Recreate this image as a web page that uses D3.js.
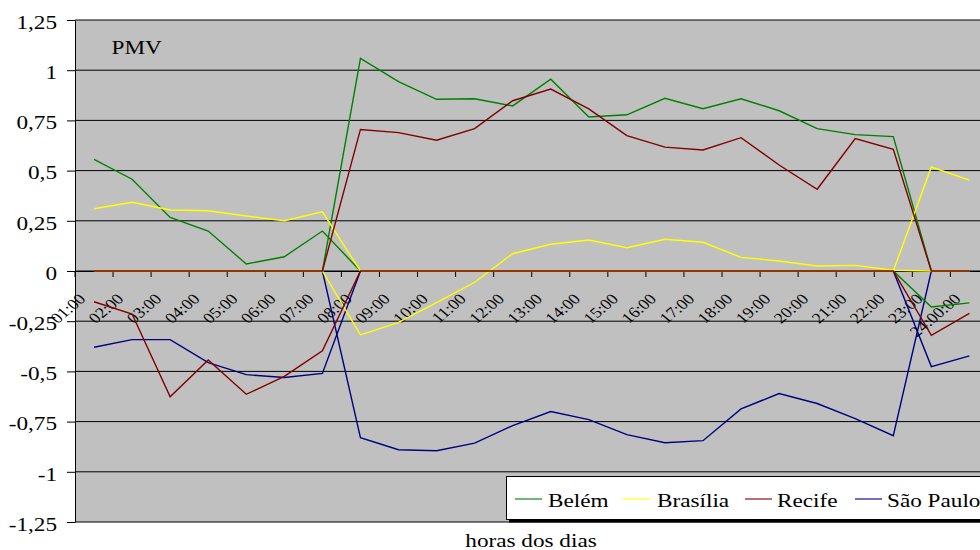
<!DOCTYPE html>
<html>
<head>
<meta charset="utf-8">
<script src="https://cdn.jsdelivr.net/npm/d3@7"></script>
<style>
  html, body { margin: 0; padding: 0; background: #ffffff; }
  svg { display: block; font-family: "Liberation Serif", "Times New Roman", serif; }
</style>
</head>
<body>
<svg id="chart" width="980" height="550"></svg>
<script>
// Hours of the day (categories) and their axis labels
const hours = ["01:00","02:00","03:00","04:00","05:00","06:00","07:00","08:00",
               "09:00","10:00","11:00","12:00","13:00","14:00","15:00","16:00",
               "17:00","18:00","19:00","20:00","21:00","22:00","23:00","24:00"];
const hourLabels = ["01:00","02:00","03:00","04:00","05:00","06:00","07:00","08:00",
                    "09:00","10:00","11:00","12:00","13:00","14:00","15:00","16:00",
                    "17:00","18:00","19:00","20:00","21:00","22:00","23:00","24:00:00"];

// Value axis ticks and their labels (decimal comma)
const yTicks = [1.25, 1, 0.75, 0.5, 0.25, 0, -0.25, -0.5, -0.75, -1, -1.25];
const yTickLabels = ["1,25","1","0,75","0,5","0,25","0","-0,25","-0,5","-0,75","-1","-1,25"];

// PMV per city, split into night (01–07h, 23–24h) and day (08–22h) series
const belemNight    = [0.556, 0.457, 0.267, 0.199, 0.035, 0.071, 0.199, 0, 0, 0, 0, 0, 0, 0, 0, 0, 0, 0, 0, 0, 0, 0, -0.179, -0.159];
const belemDay      = [0, 0, 0, 0, 0, 0, 0, 1.059, 0.943, 0.855, 0.858, 0.822, 0.955, 0.767, 0.778, 0.86, 0.808, 0.858, 0.798, 0.709, 0.679, 0.669, 0, 0];
const brasiliaNight = [0.31, 0.342, 0.304, 0.3, 0.274, 0.25, 0.295, 0, 0, 0, 0, 0, 0, 0, 0, 0, 0, 0, 0, 0, 0, 0, 0.518, 0.453];
const brasiliaDay   = [0, 0, 0, 0, 0, 0, 0, -0.318, -0.256, -0.158, -0.056, 0.086, 0.133, 0.154, 0.116, 0.158, 0.143, 0.068, 0.05, 0.025, 0.028, 0.004, 0, 0];
const recifeNight   = [-0.153, -0.214, -0.626, -0.443, -0.614, -0.525, -0.397, 0, 0, 0, 0, 0, 0, 0, 0, 0, 0, 0, 0, 0, 0, 0, -0.32, -0.211];
const recifeDay     = [0, 0, 0, 0, 0, 0, 0, 0.705, 0.689, 0.651, 0.709, 0.848, 0.906, 0.807, 0.674, 0.617, 0.603, 0.664, 0.528, 0.407, 0.659, 0.606, 0, 0];
const spNight       = [-0.38, -0.342, -0.342, -0.456, -0.516, -0.53, -0.51, 0, 0, 0, 0, 0, 0, 0, 0, 0, 0, 0, 0, 0, 0, 0, -0.476, -0.423];
const spDay         = [0, 0, 0, 0, 0, 0, 0, -0.83, -0.89, -0.895, -0.857, -0.77, -0.70, -0.74, -0.815, -0.855, -0.845, -0.687, -0.61, -0.66, -0.735, -0.82, 0, 0];

const cities = ["Belém", "Brasília", "Recife", "São Paulo"];
const cityColors = ["#008000", "#ffff00", "#800000", "#000080"];

// drawing order of the line series (Recife ends up on top)
const series = [
  { city: 3, values: spNight },       { city: 3, values: spDay },
  { city: 0, values: belemNight },    { city: 0, values: belemDay },
  { city: 1, values: brasiliaNight }, { city: 1, values: brasiliaDay },
  { city: 2, values: recifeNight },   { city: 2, values: recifeDay }
];

const W = 980, H = 550;
const plotLeft = 75, plotTop = 20, plotBottom = 522, step = 38.06;
const sx = 1.19; // horizontal text stretch

const svg = d3.select("#chart");
svg.append("rect").attr("width", W).attr("height", H).attr("fill", "#ffffff");

const x = d3.scaleBand().domain(hours)
  .range([plotLeft, plotLeft + step * hours.length]).padding(0);
const y = d3.scaleLinear().domain([-1.25, 1.25]).range([plotBottom, plotTop]);
const cx = h => x(h) + x.bandwidth() / 2;

// plot area
svg.append("rect")
  .attr("x", plotLeft).attr("y", plotTop)
  .attr("width", W - plotLeft + 10).attr("height", plotBottom - plotTop)
  .attr("fill", "#c0c0c0");

// horizontal gridlines
svg.append("g").selectAll("line").data(yTicks).join("line")
  .attr("x1", plotLeft).attr("x2", W + 10)
  .attr("y1", d => y(d)).attr("y2", d => y(d))
  .attr("stroke", "#000").attr("stroke-width", 1);

// value axis
const yAxis = svg.append("g")
  .attr("transform", `translate(${plotLeft},0)`)
  .call(d3.axisLeft(y).tickValues(yTicks).tickSize(8).tickSizeOuter(0)
        .tickFormat((d, i) => yTickLabels[i]));
yAxis.select(".domain").attr("stroke", "#000");
yAxis.selectAll(".tick line").attr("stroke", "#000");
yAxis.selectAll(".tick text")
  .attr("x", -18 / sx).attr("dy", "0.43em")
  .attr("transform", `scale(${sx},1)`)
  .attr("fill", "#000").attr("font-size", 19.5)
  .attr("font-family", "Liberation Serif, Times New Roman, serif");

// category axis along zero
const xAxis = svg.append("g")
  .attr("transform", `translate(0,${y(0)})`)
  .call(d3.axisBottom(x).tickSize(0).tickSizeOuter(0)
        .tickFormat((d, i) => hourLabels[i]));
xAxis.select(".domain").remove();
xAxis.append("line")
  .attr("x1", plotLeft).attr("x2", W + 10).attr("y1", 0.5).attr("y2", 0.5)
  .attr("stroke", "#000");
xAxis.selectAll(".tick text")
  .attr("x", null).attr("y", null).attr("dy", null)
  .attr("text-anchor", "end")
  .attr("transform", `translate(-7.5,29) scale(${sx},1) rotate(-45)`)
  .attr("fill", "#000").attr("font-size", 15)
  .attr("font-family", "Liberation Serif, Times New Roman, serif");
// tick marks between categories
xAxis.append("g").selectAll("line").data(hours.concat(["end"])).join("line")
  .attr("x1", (d, i) => i < hours.length ? x(d) : x(hours[hours.length - 1]) + x.bandwidth())
  .attr("x2", (d, i) => i < hours.length ? x(d) : x(hours[hours.length - 1]) + x.bandwidth())
  .attr("y1", 0).attr("y2", 6)
  .attr("stroke", "#000");

// series lines
const line = d3.line()
  .x((d, i) => cx(hours[i]))
  .y(d => y(d));
svg.append("g").selectAll("path").data(series).join("path")
  .attr("d", d => line(d.values))
  .attr("fill", "none")
  .attr("stroke", d => cityColors[d.city])
  .attr("stroke-width", 1.4)
  .attr("stroke-linejoin", "miter");

// chart label
svg.append("text")
  .attr("transform", `translate(111.5,54) scale(${sx},1)`)
  .attr("font-size", 19.5).attr("fill", "#000")
  .text("PMV");

// category axis title
svg.append("text")
  .attr("transform", `translate(531,546.5) scale(${sx},1)`)
  .attr("text-anchor", "middle")
  .attr("font-size", 19.5).attr("fill", "#000")
  .text("horas dos dias");

// legend
const legend = svg.append("g");
legend.append("rect")
  .attr("x", 509).attr("y", 479.5).attr("width", 500).attr("height", 43)
  .attr("fill", "#000");
legend.append("rect")
  .attr("x", 506.5).attr("y", 476.5).attr("width", 500).attr("height", 43)
  .attr("fill", "#ffffff").attr("stroke", "#000").attr("stroke-width", 1);
const legendLineX = [515, 623, 745, 855];
const legendTextX = [548, 657, 777, 887];
const items = legend.selectAll("g.item").data(cities).join("g").attr("class", "item");
items.append("line")
  .attr("x1", (d, i) => legendLineX[i]).attr("x2", (d, i) => legendLineX[i] + 27)
  .attr("y1", 499).attr("y2", 499)
  .attr("stroke", (d, i) => cityColors[i]).attr("stroke-width", 1.6)
  .attr("stroke-opacity", 0.7);
items.append("text")
  .attr("transform", (d, i) => `translate(${legendTextX[i]},506.5) scale(${sx},1)`)
  .attr("font-size", 19.5).attr("fill", "#000")
  .text(d => d);
</script>
</body>
</html>
